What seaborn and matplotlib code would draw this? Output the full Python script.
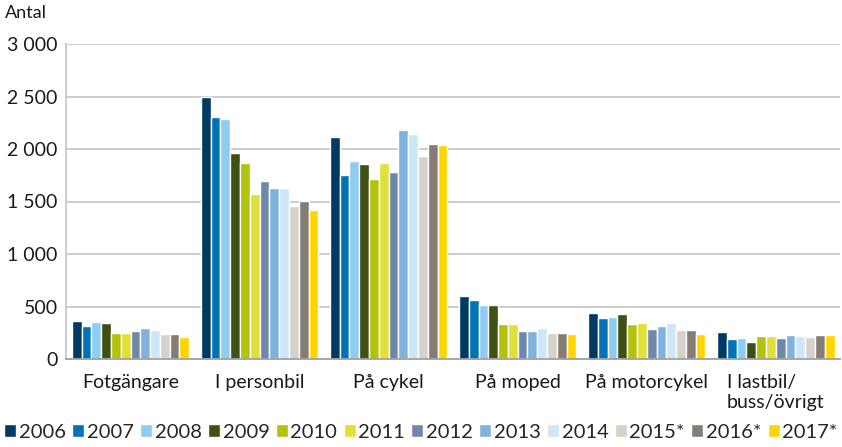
import numpy as np
import pandas as pd
import seaborn as sns
import matplotlib.pyplot as plt
from matplotlib.ticker import FuncFormatter, FixedLocator

categories = ['Fotgängare', 'I personbil', 'På cykel', 'På moped',
              'På motorcykel', 'I lastbil/\nbuss/övrigt']
years = ['2006', '2007', '2008', '2009', '2010', '2011',
         '2012', '2013', '2014', '2015*', '2016*', '2017*']

fotgangare = [365, 317, 352, 340, 245, 245, 270, 295, 276, 241, 241, 213]
personbil = [2500, 2302, 2283, 1959, 1864, 1571, 1692, 1625, 1625, 1457, 1502, 1416]
cykel = [2117, 1752, 1886, 1854, 1711, 1864, 1784, 2178, 2140, 1933, 2045, 2041]
moped = [603, 559, 517, 514, 330, 330, 263, 263, 292, 248, 251, 235]
motorcykel = [435, 390, 400, 429, 333, 340, 286, 311, 340, 273, 273, 241]
lastbil = [257, 190, 197, 165, 219, 219, 200, 225, 216, 210, 225, 229]

colors = ['#003a63', '#0072b6', '#8ecdf0', '#3e5014', '#b3c20b', '#dfe03a',
          '#6f88aa', '#7fb2dc', '#cde6f8', '#d6d2cb', '#867c76', '#ffd500']

series = [fotgangare, personbil, cykel, moped, motorcykel, lastbil]
rows = []
for cat, vals in zip(categories, series):
    for yr, v in zip(years, vals):
        rows.append({'kategori': cat, 'år': yr, 'antal': v})
df = pd.DataFrame(rows)

sns.set_theme(style='white')
plt.rcParams['font.family'] = ['Lato', 'DejaVu Sans']

fig = plt.figure(figsize=(8.42, 4.47), dpi=100)
ax = fig.add_axes([66 / 842, 1 - 359 / 447, 1 - 66 / 842 - 0.002, 315 / 447])

sns.barplot(data=df, x='kategori', y='antal', hue='år', palette=colors,
            width=0.91, saturation=1, ax=ax, legend=True)

ax.set_ylim(0, 3000)
ax.set_xlim(-0.5, len(categories) - 0.5)
ax.set_yticks(np.arange(0, 3001, 500))
ax.yaxis.set_major_formatter(FuncFormatter(lambda v, p: f'{int(v):,}'.replace(',', ' ')))
ax.grid(axis='y', color='#c8c8c8', linewidth=1.3)
ax.set_axisbelow(True)
ax.set_xlabel('')
ax.set_ylabel('')
for s in ['top', 'right']:
    ax.spines[s].set_visible(False)
ax.spines['left'].set_color('#c8c8c8')
ax.spines['left'].set_linewidth(1.3)
ax.spines['bottom'].set_color('#a0a0a0')
ax.spines['bottom'].set_linewidth(1.3)

ax.tick_params(axis='y', length=0, labelsize=14, pad=6, labelcolor='#1a1a1a')
ax.tick_params(axis='x', which='major', length=0, labelsize=14, pad=11, labelcolor='#1a1a1a')
for lbl in ax.get_xticklabels():
    lbl.set_multialignment('left')
ax.xaxis.set_minor_locator(FixedLocator(np.arange(-0.5, len(categories), 1)))
ax.tick_params(axis='x', which='minor', length=6, width=1.2, color='#a0a0a0', direction='out')

fig.text(5 / 842, 1 - 13 / 447, 'Antal', fontsize=13, va='center', color='#1a1a1a')

handles, labels = ax.get_legend_handles_labels()
ax.get_legend().remove()
fig.legend(handles, labels, loc='lower center', bbox_to_anchor=(0.5, 0.0),
           ncol=12, frameon=False, fontsize=14.5, handlelength=0.6, handleheight=0.6,
           handletextpad=0.12, columnspacing=0.32, borderaxespad=0.2, borderpad=0.1)

fig.savefig('out.png', dpi=100)
